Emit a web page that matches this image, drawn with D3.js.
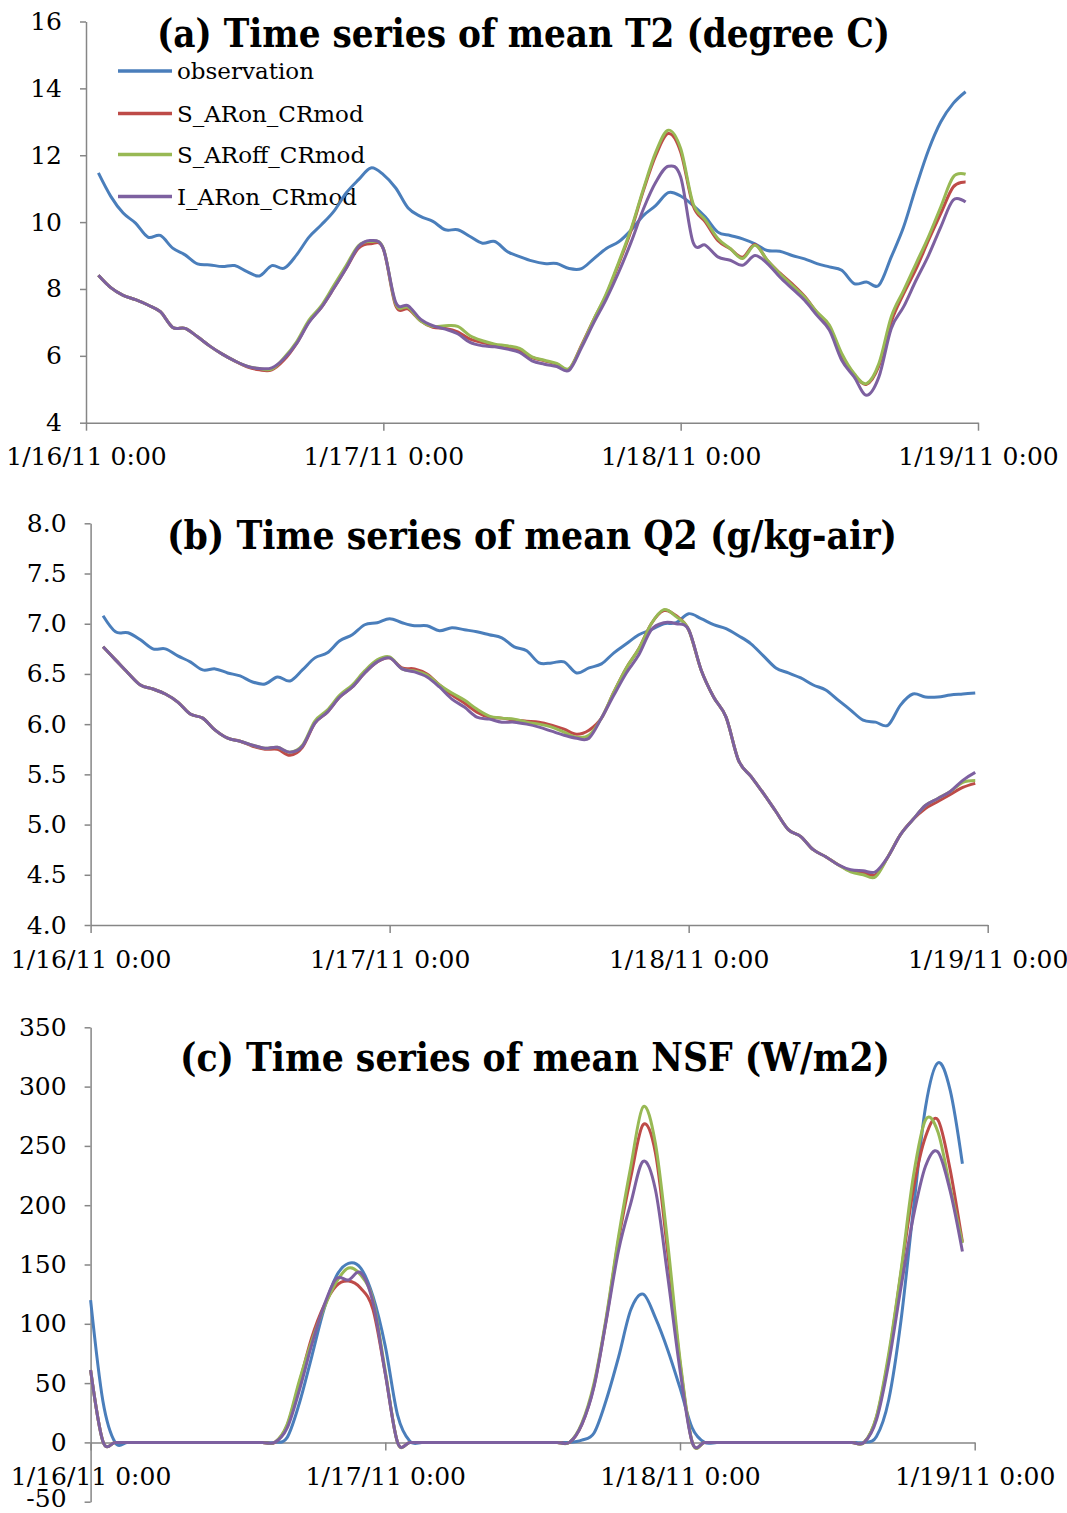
<!DOCTYPE html>
<html>
<head>
<meta charset="utf-8">
<script src="https://cdn.jsdelivr.net/npm/d3@7"></script>
<style>
  body { margin: 0; background: #fff; }
  text { font-family: "DejaVu Serif", serif; fill: #000; }
</style>
</head>
<body>
<svg id="chart" width="1067" height="1513"></svg>
<script>
// series + colours (Excel 2007 palette)
const seriesNames = ['observation', 'S_ARon_CRmod', 'S_ARoff_CRmod', 'I_ARon_CRmod'];
const seriesColors = ['#4a7ebb', '#be4b48', '#98b954', '#7d60a0'];

const startDay = new Date(2011, 0, 16);
const hoursTQ = d3.range(1, 72);   // hourly, 1/16 01:00 .. 1/18 23:00
const hoursNSF = d3.range(0, 72);  // hourly, 1/16 00:00 .. 1/18 23:00

// (a) T2, degree C
const t2Obs = [11.47,10.77,10.27,9.97,9.55,9.6,9.22,9.02,8.75,8.72,
  8.67,8.70,8.52,8.39,8.70,8.62,9.02,9.55,9.92,10.32,
  10.87,11.27,11.62,11.42,11.02,10.42,10.17,10.02,9.77,9.77,
  9.57,9.37,9.42,9.12,8.97,8.84,8.76,8.76,8.61,8.61,
  8.91,9.21,9.41,9.76,10.2,10.5,10.88,10.78,10.5,10.15,
  9.7,9.6,9.5,9.35,9.15,9.13,9.0,8.9,8.76,8.66,
  8.56,8.16,8.21,8.11,8.96,9.86,11.05,12.15,13.0,13.55,13.9];
const t2SARon = [8.41,8.04,7.81,7.68,7.52,7.32,6.85,6.82,6.57,6.29,
  6.05,5.85,5.67,5.58,5.58,5.88,6.37,7.02,7.45,8.02,
  8.62,9.22,9.35,9.2,7.5,7.4,7.05,6.85,6.82,6.72,
  6.5,6.4,6.32,6.27,6.15,5.95,5.85,5.75,5.6,6.32,
  7.1,7.82,8.75,9.75,10.95,12.0,12.65,12.1,10.5,10.0,
  9.45,9.2,8.95,9.33,8.85,8.48,8.15,7.78,7.3,6.88,
  6.0,5.45,5.15,5.7,7.02,7.86,8.6,9.45,10.26,11.05,11.2];
const t2SARoff = [8.41,8.04,7.81,7.68,7.52,7.32,6.85,6.82,6.57,6.29,
  6.05,5.85,5.69,5.62,5.6,5.95,6.42,7.07,7.5,8.1,
  8.7,9.3,9.42,9.22,7.55,7.45,7.05,6.88,6.9,6.88,
  6.6,6.45,6.35,6.3,6.22,5.97,5.87,5.77,5.62,6.3,
  7.1,7.86,8.8,9.8,11.0,12.1,12.75,12.2,10.56,10.06,
  9.51,9.21,8.91,9.31,8.86,8.46,8.11,7.76,7.31,6.92,
  6.07,5.47,5.17,5.77,7.17,7.96,8.76,9.56,10.46,11.35,11.43];
const t2IARon = [8.41,8.04,7.81,7.68,7.52,7.32,6.85,6.82,6.57,6.29,
  6.05,5.85,5.69,5.62,5.64,5.92,6.37,7.0,7.45,8.02,
  8.62,9.27,9.45,9.2,7.6,7.5,7.1,6.9,6.8,6.66,
  6.4,6.3,6.27,6.2,6.1,5.85,5.75,5.68,5.57,6.25,
  7.0,7.7,8.5,9.4,10.4,11.2,11.67,11.35,9.4,9.31,
  8.96,8.86,8.71,9.0,8.76,8.36,8.01,7.66,7.21,6.77,
  5.87,5.37,4.82,5.37,6.82,7.47,8.26,9.0,9.86,10.66,10.6];
const t2Ticks = [4, 6, 8, 10, 12, 14, 16];

// (b) Q2, g/kg-air
const q2Obs = [7.08,6.92,6.91,6.84,6.75,6.75,6.68,6.62,6.54,6.55,
  6.51,6.48,6.42,6.40,6.47,6.43,6.54,6.66,6.71,6.83,
  6.89,6.99,7.01,7.05,7.01,6.98,6.98,6.93,6.96,6.94,
  6.92,6.89,6.86,6.77,6.73,6.61,6.61,6.62,6.51,6.56,
  6.6,6.71,6.8,6.89,6.94,7.0,7.01,7.1,7.05,6.99,
  6.95,6.88,6.8,6.68,6.56,6.51,6.46,6.39,6.34,6.24,
  6.14,6.04,6.02,5.99,6.19,6.3,6.27,6.27,6.29,6.3,6.31];
const q2SARon = [6.77,6.64,6.51,6.39,6.35,6.3,6.22,6.1,6.06,5.94,
  5.86,5.83,5.78,5.75,5.75,5.69,5.77,6.01,6.12,6.27,
  6.37,6.51,6.62,6.66,6.56,6.55,6.5,6.39,6.29,6.21,
  6.12,6.07,6.06,6.04,6.03,6.02,5.99,5.95,5.9,5.94,
  6.06,6.32,6.56,6.75,7.0,7.13,7.08,6.94,6.54,6.27,
  6.07,5.64,5.48,5.31,5.13,4.95,4.88,4.75,4.68,4.6,
  4.54,4.52,4.5,4.68,4.9,5.05,5.16,5.23,5.3,5.37,5.41];
const q2SARoff = [6.77,6.64,6.51,6.39,6.35,6.3,6.22,6.1,6.06,5.94,
  5.86,5.83,5.79,5.76,5.77,5.72,5.79,6.03,6.14,6.29,
  6.39,6.53,6.64,6.67,6.55,6.53,6.49,6.39,6.31,6.24,
  6.15,6.08,6.06,6.05,6.02,6.0,5.97,5.92,5.87,5.89,
  6.06,6.32,6.56,6.75,7.0,7.14,7.07,6.94,6.54,6.27,
  6.07,5.64,5.48,5.31,5.13,4.95,4.88,4.75,4.68,4.6,
  4.53,4.5,4.48,4.68,4.9,5.05,5.19,5.26,5.33,5.42,5.44];
const q2IARon = [6.77,6.64,6.51,6.39,6.35,6.3,6.22,6.1,6.06,5.94,
  5.86,5.83,5.79,5.76,5.77,5.72,5.78,6.01,6.12,6.27,
  6.37,6.51,6.62,6.66,6.55,6.52,6.47,6.37,6.25,6.17,
  6.07,6.05,6.02,6.02,6.0,5.97,5.93,5.89,5.86,5.86,
  6.06,6.29,6.51,6.69,6.94,7.01,7.0,6.94,6.54,6.27,
  6.07,5.64,5.48,5.31,5.13,4.95,4.88,4.75,4.68,4.6,
  4.55,4.54,4.53,4.68,4.9,5.05,5.19,5.26,5.33,5.44,5.52];
const q2Ticks = [4.0, 4.5, 5.0, 5.5, 6.0, 6.5, 7.0, 7.5, 8.0];

// (c) NSF, W/m2
const nsfObs = [120,35,0,0,0,0,0,0,0,0,
  0,0,0,0,0,0,4,33,72,112,
  140,151,147,123,81,23,1,0,0,0,
  0,0,0,0,0,0,0,0,0,0,
  2,8,36,72,112,125,105,78,46,12,
  0,0,0,0,0,0,0,0,0,0,
  0,0,0,0,5,36,103,196,283,320,297,235];
const nsfSARon = [61,1,0,0,0,0,0,0,0,0,
  0,0,0,0,0,0,14,50,88,115,
  132,136,130,112,58,0,0,0,0,0,
  0,0,0,0,0,0,0,0,0,0,
  15,48,104,171,224,268,244,160,67,0,
  0,0,0,0,0,0,0,0,0,0,
  0,0,0,0,21,72,143,213,258,272,230,169];
const nsfSARoff = [61,1,0,0,0,0,0,0,0,0,
  0,0,0,0,0,0,15,52,85,113,
  135,147,141,120,60,0,0,0,0,0,
  0,0,0,0,0,0,0,0,0,0,
  16,50,106,174,233,283,252,168,70,0,
  0,0,0,0,0,0,0,0,0,0,
  0,0,0,0,22,75,145,224,272,262,215,168];
const nsfIARon = [61,1,0,0,0,0,0,0,0,0,
  0,0,0,0,0,0,12,44,82,115,
  138,137,143,118,58,0,0,0,0,0,
  0,0,0,0,0,0,0,0,0,0,
  15,47,103,162,202,237,213,140,61,0,
  0,0,0,0,0,0,0,0,0,0,
  0,0,0,0,19,67,131,190,233,245,212,161];
const nsfTicks = [-50, 0, 50, 100, 150, 200, 250, 300, 350];

const svg = d3.select('#chart');
svg.append('rect').attr('width', 1067).attr('height', 1513).attr('fill', '#fff');

const axisColor = '#868686';
const dateFmt = d3.timeFormat('%-m/%-d/%y %-H:%M');
const plainFmt = d => String(d);   // keeps "-50" with a plain hyphen

function drawPanel(p) {
  const x = d3.scaleTime()
    .domain([startDay, d3.timeDay.offset(startDay, 3)])
    .range([p.left, p.right]);
  const y = d3.scaleLinear().domain(p.domain).range([p.bottom, p.top]);

  // y axis
  const gy = svg.append('g')
    .attr('transform', `translate(${p.left},0)`)
    .call(d3.axisLeft(y).tickValues(p.ticks).tickFormat(p.fmt)
      .tickSize(6).tickSizeOuter(0).tickPadding(18));
  // x axis (sits on the zero line in panel c)
  const gx = svg.append('g')
    .attr('transform', `translate(0,${y(p.xAt)})`)
    .call(d3.axisBottom(x).ticks(d3.timeDay.every(1)).tickFormat(dateFmt)
      .tickSize(8).tickSizeOuter(0).tickPadding(17));
  [gy, gx].forEach(g => {
    g.attr('font-family', null).attr('font-size', null);
    g.selectAll('path, line').attr('stroke', axisColor).attr('stroke-width', 1.5);
    g.selectAll('text').attr('font-size', 25).attr('fill', '#000');
  });
  // bottom label of panel c sits at the page edge: lift it a little
  gy.selectAll('.tick text').filter(d => y(d) > 1490).attr('dy', '0.2em');

  // title
  svg.append('text')
    .attr('x', p.titleX).attr('y', p.titleY)
    .attr('text-anchor', 'middle')
    .attr('font-weight', 'bold').attr('font-size', 39)
    .attr('textLength', p.titleW).attr('lengthAdjust', 'spacingAndGlyphs')
    .text(p.title);

  // legend (panel a only)
  if (p.legend) {
    const lg = svg.append('g');
    seriesNames.forEach((name, i) => {
      const ly = p.legend.y[i];
      lg.append('line').attr('x1', p.legend.x).attr('x2', p.legend.x + 54)
        .attr('y1', ly).attr('y2', ly)
        .attr('stroke', seriesColors[i]).attr('stroke-width', 3.5);
      lg.append('text').attr('x', p.legend.x + 59).attr('y', ly)
        .attr('dy', '0.35em').attr('font-size', 23).text(name);
    });
  }

  const line = d3.line()
    .x(d => x(d3.timeHour.offset(startDay, d.h)))
    .y(d => y(d.v))
    .curve(d3.curveCardinal.tension(0));

  p.series.forEach((vals, i) => {
    svg.append('path')
      .datum(vals.map((v, k) => ({ h: p.hours[k], v })))
      .attr('d', line)
      .attr('fill', 'none')
      .attr('stroke', seriesColors[i])
      .attr('stroke-width', 3)
      .attr('stroke-linejoin', 'round');
  });
}

drawPanel({
  left: 86, right: 978, top: 21.5, bottom: 422.7,
  domain: [4, 16], ticks: t2Ticks, fmt: plainFmt, xAt: 4,
  hours: hoursTQ, series: [t2Obs, t2SARon, t2SARoff, t2IARon],
  title: '(a) Time series of mean T2 (degree C)', titleX: 523.5, titleY: 47, titleW: 733,
  legend: { x: 118, y: [71, 113.5, 154.5, 196.5] }
});

drawPanel({
  left: 90.6, right: 987.7, top: 523.3, bottom: 925,
  domain: [4, 8], ticks: q2Ticks, fmt: d3.format('.1f'), xAt: 4,
  hours: hoursTQ, series: [q2Obs, q2SARon, q2SARoff, q2IARon],
  title: '(b) Time series of mean Q2 (g/kg-air)', titleX: 532, titleY: 549, titleW: 730
});

drawPanel({
  left: 90.6, right: 974.7, top: 1027.3, bottom: 1501.7,
  domain: [-50, 350], ticks: nsfTicks, fmt: plainFmt, xAt: 0,
  hours: hoursNSF, series: [nsfObs, nsfSARon, nsfSARoff, nsfIARon],
  title: '(c) Time series of mean NSF (W/m2)', titleX: 535, titleY: 1071, titleW: 710
});
</script>
</body>
</html>
